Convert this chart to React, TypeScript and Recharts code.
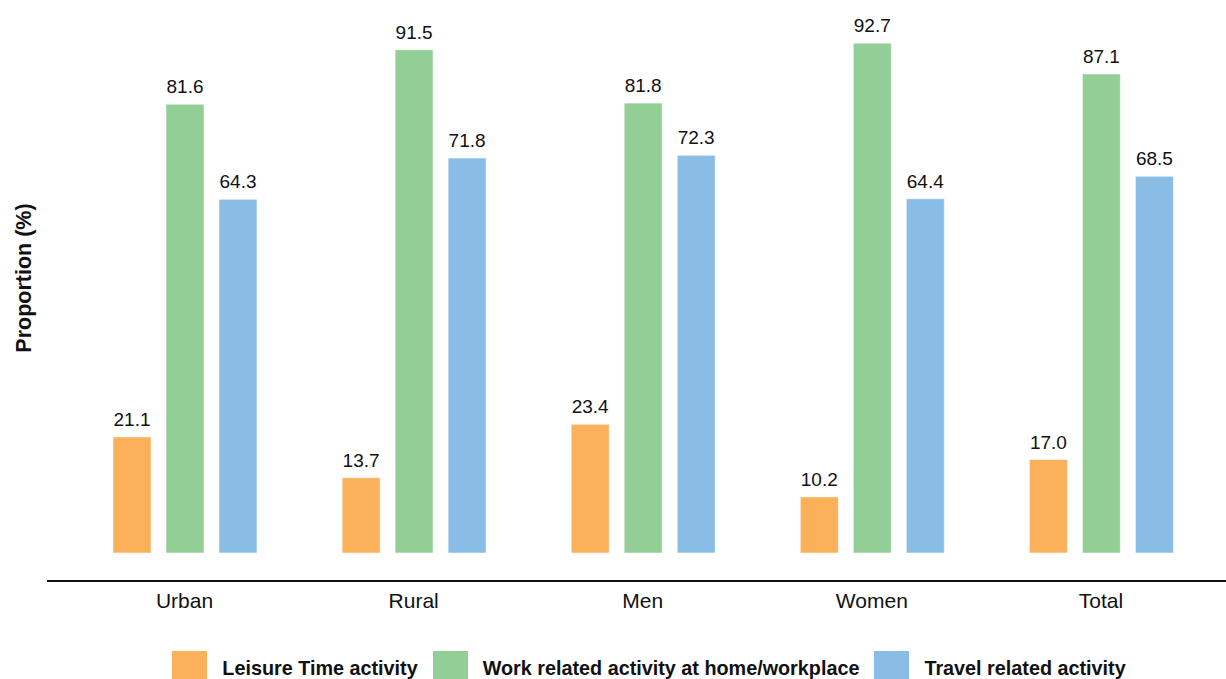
import React from 'react';
import { BarChart, Bar, XAxis, YAxis, Legend, LabelList } from 'recharts';

const categories = ['Urban', 'Rural', 'Men', 'Women', 'Total'];
const leisure = [21.1, 13.7, 23.4, 10.2, 17.0];
const work = [81.6, 91.5, 81.8, 92.7, 87.1];
const travel = [64.3, 71.8, 72.3, 64.4, 68.5];

const seriesNames = [
  'Leisure Time activity',
  'Work related activity at home/workplace',
  'Travel related activity',
];
const COLORS = ['#FBB05A', '#93CE96', '#8ABDE6'];

const data = categories.map((name, i) => ({
  name,
  leisure: leisure[i],
  work: work[i],
  travel: travel[i],
}));

const FONT = '"Liberation Sans", Arial, Helvetica, sans-serif';

const renderLegend = () => (
  <div
    style={{
      display: 'flex',
      justifyContent: 'center',
      alignItems: 'center',
      fontFamily: FONT,
      fontWeight: 'bold',
      fontSize: 19.8,
      color: '#111',
    }}
  >
    {seriesNames.map((name, i) => (
      <div key={name} style={{ display: 'flex', alignItems: 'center', marginRight: i < 2 ? 15 : 0 }}>
        <span style={{ width: 35, height: 35, background: COLORS[i], display: 'inline-block', marginRight: 15 }} />
        <span>{name}</span>
      </div>
    ))}
  </div>
);

const YLabel = () => (
  <text
    x={24}
    y={278}
    transform="rotate(-90 24 278)"
    textAnchor="middle"
    dominantBaseline="central"
    fontFamily={FONT}
    fontWeight="bold"
    fontSize={21.5}
    fill="#111"
  >
    Proportion (%)
  </text>
);

const fmt = (v: any) => Number(v).toFixed(1);

const App: React.FC = () => {
  const keys = ['leisure', 'work', 'travel'];
  return (
    <div style={{ position: 'absolute', left: 0, top: 0, width: 1226, height: 679, overflow: 'hidden', background: '#fff' }}>
      <BarChart
        width={1226}
        height={679}
        data={data}
        margin={{ top: 3, right: 0, bottom: 0, left: 0 }}
        barSize={38}
        barGap={15}
      >
        <XAxis
          dataKey="name"
          height={98}
          padding={{ left: 23, right: 10.5 }}
          axisLine={{ stroke: '#111', strokeWidth: 2 }}
          tickLine={false}
          tickSize={0}
          tickMargin={12}
          tick={{ fill: '#111', fontSize: 21, fontFamily: FONT }}
        />
        <YAxis
          width={47}
          domain={[-5.09, 100]}
          tick={false}
          axisLine={false}
          tickLine={false}
          label={{ content: () => <YLabel /> }}
        />
        <Legend
          verticalAlign="middle"
          align="center"
          layout="horizontal"
          wrapperStyle={{ top: 651, left: 72, width: 1154 }}
          content={renderLegend}
        />
        {keys.map((k, i) => (
          <Bar
            key={k}
            dataKey={k}
            name={seriesNames[i]}
            fill={COLORS[i]}
            stroke="rgba(255,255,255,0.55)"
            strokeWidth={1}
            isAnimationActive={false}
          >
            <LabelList
              dataKey={k}
              position="top"
              offset={11}
              formatter={fmt}
              fill="#111"
              fontSize={19}
              fontFamily={FONT}
            />
          </Bar>
        ))}
      </BarChart>
    </div>
  );
};

export default App;
